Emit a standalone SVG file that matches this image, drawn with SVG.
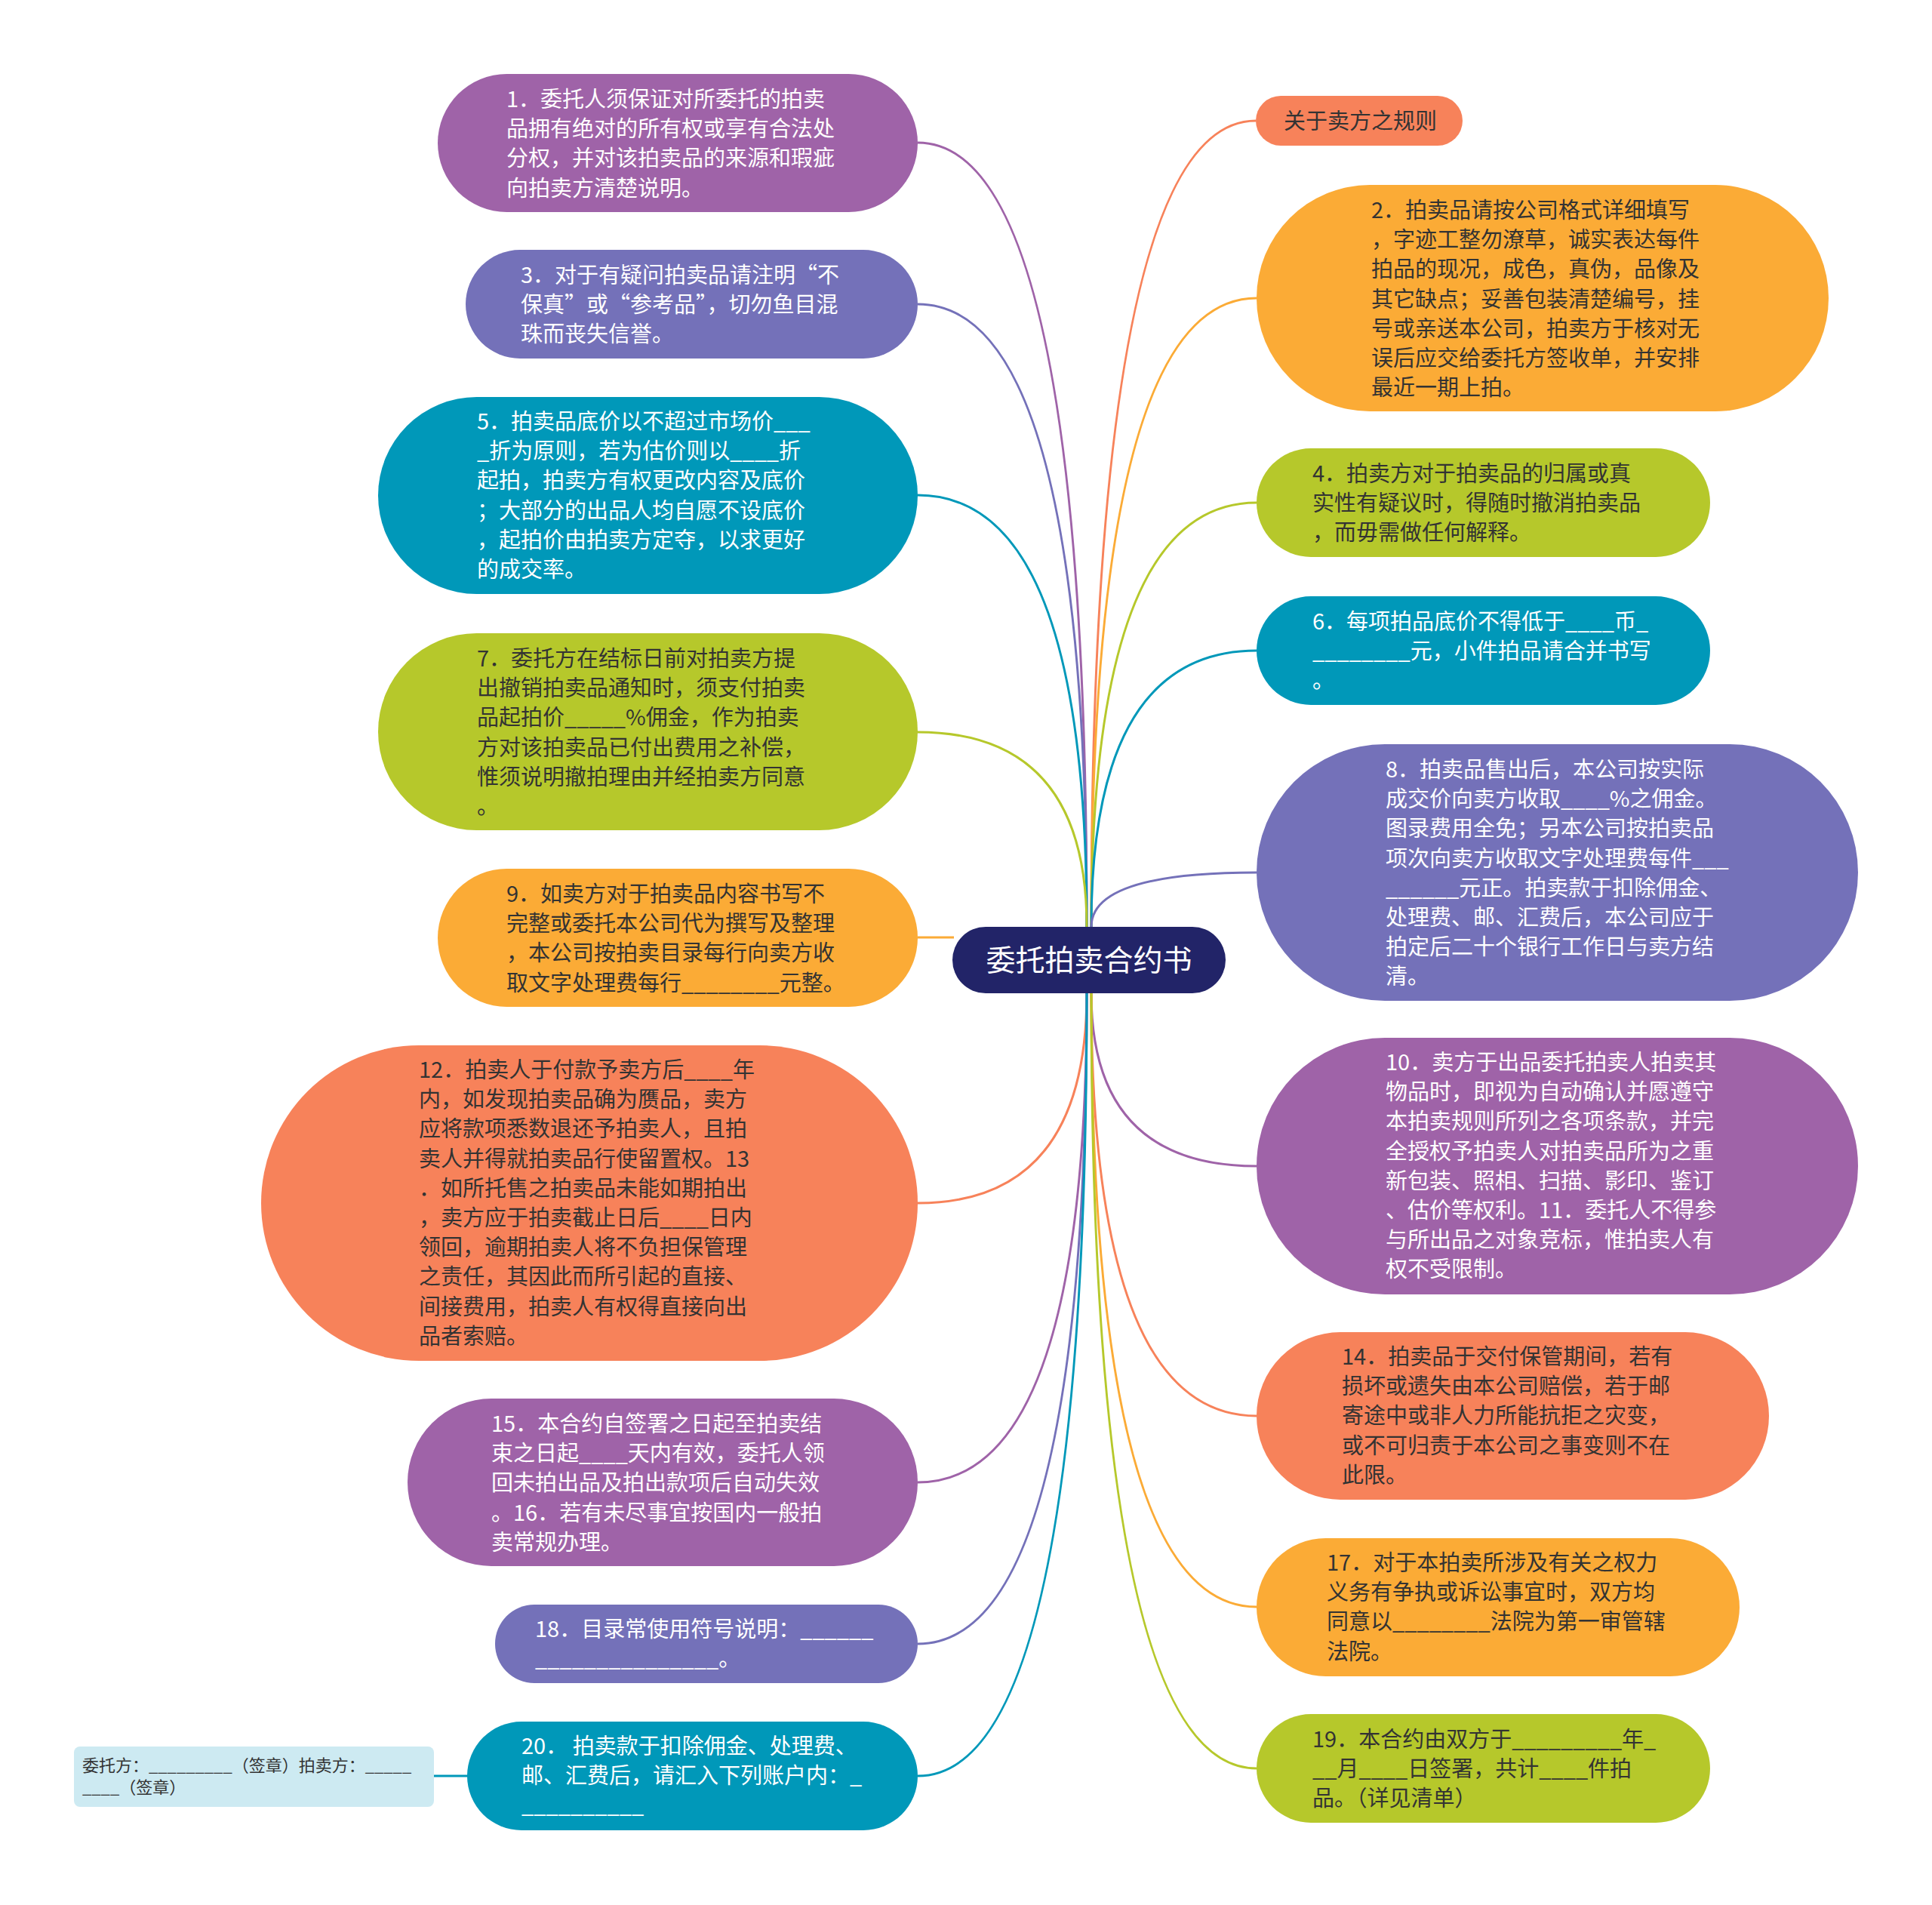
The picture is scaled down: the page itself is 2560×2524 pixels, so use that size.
<svg xmlns="http://www.w3.org/2000/svg" width="2560" height="2524" viewBox="0 0 2560 2524">
<style>
  .t { font-family: "Noto Sans CJK SC", "Noto Sans", sans-serif; font-size: 29px; }
  .w { fill: #ffffff; }
  .d { fill: #333333; }
  .c { fill: none; stroke-width: 3; }
  .purple { fill: #9f63a8; }
  .blue { fill: #7471b9; }
  .teal { fill: #0098b9; }
  .lime { fill: #b6c82b; }
  .orange { fill: #fbab36; }
  .coral { fill: #f7825a; }
</style>
<rect width="2560" height="2524" fill="#ffffff"/>
<g id="connectors">
  <path class="c" stroke="#9f63a8" d="M1440,1228 Q1440,189 1216,189"/>
  <path class="c" stroke="#7471b9" d="M1440,1228 Q1440,403 1216,403"/>
  <path class="c" stroke="#0098b9" d="M1440,1228 Q1440,656 1216,656"/>
  <path class="c" stroke="#b6c82b" d="M1440,1228 Q1440,970 1216,970"/>
  <path class="c" stroke="#fbab36" d="M1264,1242 L1216,1242"/>
  <path class="c" stroke="#f7825a" d="M1440,1316 Q1440,1594 1216,1594"/>
  <path class="c" stroke="#9f63a8" d="M1440,1316 Q1440,1964 1216,1964"/>
  <path class="c" stroke="#7471b9" d="M1440,1316 Q1440,2178 1216,2178"/>
  <path class="c" stroke="#0098b9" d="M1440,1316 Q1440,2353 1216,2353"/>
  <path class="c" stroke="#0098b9" d="M620,2353 L574,2353"/>
  <path class="c" stroke="#f7825a" d="M1446,1228 Q1446,160 1664,160"/>
  <path class="c" stroke="#fbab36" d="M1446,1228 Q1446,395 1665,395"/>
  <path class="c" stroke="#b6c82b" d="M1446,1228 Q1446,666 1665,666"/>
  <path class="c" stroke="#0098b9" d="M1446,1228 Q1446,862 1665,862"/>
  <path class="c" stroke="#7471b9" d="M1446,1228 Q1446,1156 1665,1156"/>
  <path class="c" stroke="#9f63a8" d="M1446,1316 Q1446,1545 1665,1545"/>
  <path class="c" stroke="#f7825a" d="M1446,1316 Q1446,1876 1665,1876"/>
  <path class="c" stroke="#fbab36" d="M1446,1316 Q1446,2129 1665,2129"/>
  <path class="c" stroke="#b6c82b" d="M1446,1316 Q1446,2343 1665,2343"/>
</g>
<g id="root">
  <rect x="1262" y="1228" width="362" height="88" rx="44" fill="#222468"/>
  <text x="1443" y="1286" text-anchor="middle" font-family="Noto Sans CJK SC, sans-serif" font-size="39" fill="#ffffff">委托拍卖合约书</text>
</g>
<g id="n1">
  <rect class="purple" x="580" y="98" width="636" height="183" rx="91.5"/>
  <text class="t w" y="142"><tspan x="671">1．委托人须保证对所委托的拍卖</tspan><tspan x="671" dy="39.2">品拥有绝对的所有权或享有合法处</tspan><tspan x="671" dy="39.2">分权，并对该拍卖品的来源和瑕疵</tspan><tspan x="671" dy="39.2">向拍卖方清楚说明。</tspan></text>
</g>
<g id="n3">
  <rect class="blue" x="617" y="331" width="599" height="144" rx="72"/>
  <text class="t w" y="375"><tspan x="690">3．对于有疑问拍卖品请注明“不</tspan><tspan x="690" dy="39.2">保真”或“参考品”，切勿鱼目混</tspan><tspan x="690" dy="39.2">珠而丧失信誉。</tspan></text>
</g>
<g id="n5">
  <rect class="teal" x="501" y="526" width="715" height="261" rx="130.5"/>
  <text class="t w" y="569"><tspan x="632">5．拍卖品底价以不超过市场价___</tspan><tspan x="632" dy="39.2">_折为原则，若为估价则以____折</tspan><tspan x="632" dy="39.2">起拍，拍卖方有权更改内容及底价</tspan><tspan x="632" dy="39.2">；大部分的出品人均自愿不设底价</tspan><tspan x="632" dy="39.2">，起拍价由拍卖方定夺，以求更好</tspan><tspan x="632" dy="39.2">的成交率。</tspan></text>
</g>
<g id="n7">
  <rect class="lime" x="501" y="839" width="715" height="261" rx="130.5"/>
  <text class="t d" y="883"><tspan x="632">7．委托方在结标日前对拍卖方提</tspan><tspan x="632" dy="39.2">出撤销拍卖品通知时，须支付拍卖</tspan><tspan x="632" dy="39.2">品起拍价_____%佣金，作为拍卖</tspan><tspan x="632" dy="39.2">方对该拍卖品已付出费用之补偿，</tspan><tspan x="632" dy="39.2">惟须说明撤拍理由并经拍卖方同意</tspan><tspan x="632" dy="39.2">。</tspan></text>
</g>
<g id="n9">
  <rect class="orange" x="580" y="1151" width="636" height="183" rx="91.5"/>
  <text class="t d" y="1195"><tspan x="671">9．如卖方对于拍卖品内容书写不</tspan><tspan x="671" dy="39.2">完整或委托本公司代为撰写及整理</tspan><tspan x="671" dy="39.2">，本公司按拍卖目录每行向卖方收</tspan><tspan x="671" dy="39.2">取文字处理费每行________元整。</tspan></text>
</g>
<g id="n12">
  <rect class="coral" x="346" y="1385" width="870" height="418" rx="209"/>
  <text class="t d" y="1428"><tspan x="555">12．拍卖人于付款予卖方后____年</tspan><tspan x="555" dy="39.2">内，如发现拍卖品确为赝品，卖方</tspan><tspan x="555" dy="39.2">应将款项悉数退还予拍卖人，且拍</tspan><tspan x="555" dy="39.2">卖人并得就拍卖品行使留置权。13</tspan><tspan x="555" dy="39.2">．如所托售之拍卖品未能如期拍出</tspan><tspan x="555" dy="39.2">，卖方应于拍卖截止日后____日内</tspan><tspan x="555" dy="39.2">领回，逾期拍卖人将不负担保管理</tspan><tspan x="555" dy="39.2">之责任，其因此而所引起的直接、</tspan><tspan x="555" dy="39.2">间接费用，拍卖人有权得直接向出</tspan><tspan x="555" dy="39.2">品者索赔。</tspan></text>
</g>
<g id="n15">
  <rect class="purple" x="540" y="1853" width="676" height="222" rx="111"/>
  <text class="t w" y="1897"><tspan x="651">15．本合约自签署之日起至拍卖结</tspan><tspan x="651" dy="39.2">束之日起____天内有效，委托人领</tspan><tspan x="651" dy="39.2">回未拍出品及拍出款项后自动失效</tspan><tspan x="651" dy="39.2">。16．若有未尽事宜按国内一般拍</tspan><tspan x="651" dy="39.2">卖常规办理。</tspan></text>
</g>
<g id="n18">
  <rect class="blue" x="656" y="2126" width="560" height="104" rx="52"/>
  <text class="t w" y="2169"><tspan x="709">18．目录常使用符号说明：______</tspan><tspan x="709" dy="39.2">_______________。</tspan></text>
</g>
<g id="n20">
  <rect class="teal" x="619" y="2281" width="597" height="144" rx="72"/>
  <text class="t w" y="2324"><tspan x="691">20． 拍卖款于扣除佣金、处理费、</tspan><tspan x="691" dy="39.2">邮、汇费后，请汇入下列账户内：_</tspan><tspan x="691" dy="39.2">__________</tspan></text>
</g>
<g id="leaf">
  <rect x="98" y="2314" width="477" height="80" rx="8" fill="#cdeaf2"/>
  <text font-family="Noto Sans CJK SC, sans-serif" font-size="22" fill="#333333" y="2347"><tspan x="109">委托方：_________（签章）拍卖方：_____</tspan><tspan x="109" dy="29">____（签章）</tspan></text>
</g>
<g id="title">
  <rect class="coral" x="1664" y="127" width="274" height="66" rx="33"/>
  <text class="t d" x="1701" y="171">关于卖方之规则</text>
</g>
<g id="n2">
  <rect class="orange" x="1665" y="245" width="758" height="300" rx="150"/>
  <text class="t d" y="289"><tspan x="1817">2．拍卖品请按公司格式详细填写</tspan><tspan x="1817" dy="39.2">，字迹工整勿潦草，诚实表达每件</tspan><tspan x="1817" dy="39.2">拍品的现况，成色，真伪，品像及</tspan><tspan x="1817" dy="39.2">其它缺点；妥善包装清楚编号，挂</tspan><tspan x="1817" dy="39.2">号或亲送本公司，拍卖方于核对无</tspan><tspan x="1817" dy="39.2">误后应交给委托方签收单，并安排</tspan><tspan x="1817" dy="39.2">最近一期上拍。</tspan></text>
</g>
<g id="n4">
  <rect class="lime" x="1665" y="594" width="601" height="144" rx="72"/>
  <text class="t d" y="638"><tspan x="1739">4．拍卖方对于拍卖品的归属或真</tspan><tspan x="1739" dy="39.2">实性有疑议时，得随时撤消拍卖品</tspan><tspan x="1739" dy="39.2">，而毋需做任何解释。</tspan></text>
</g>
<g id="n6">
  <rect class="teal" x="1665" y="790" width="601" height="144" rx="72"/>
  <text class="t w" y="834"><tspan x="1739">6．每项拍品底价不得低于____币_</tspan><tspan x="1739" dy="39.2">________元，小件拍品请合并书写</tspan><tspan x="1739" dy="39.2">。</tspan></text>
</g>
<g id="n8">
  <rect class="blue" x="1665" y="986" width="797" height="340" rx="170"/>
  <text class="t w" y="1030"><tspan x="1836">8．拍卖品售出后，本公司按实际</tspan><tspan x="1836" dy="39.2">成交价向卖方收取____%之佣金。</tspan><tspan x="1836" dy="39.2">图录费用全免；另本公司按拍卖品</tspan><tspan x="1836" dy="39.2">项次向卖方收取文字处理费每件___</tspan><tspan x="1836" dy="39.2">______元正。拍卖款于扣除佣金、</tspan><tspan x="1836" dy="39.2">处理费、邮、汇费后，本公司应于</tspan><tspan x="1836" dy="39.2">拍定后二十个银行工作日与卖方结</tspan><tspan x="1836" dy="39.2">清。</tspan></text>
</g>
<g id="n10">
  <rect class="purple" x="1665" y="1375" width="797" height="340" rx="170"/>
  <text class="t w" y="1418"><tspan x="1836">10．卖方于出品委托拍卖人拍卖其</tspan><tspan x="1836" dy="39.2">物品时，即视为自动确认并愿遵守</tspan><tspan x="1836" dy="39.2">本拍卖规则所列之各项条款，并完</tspan><tspan x="1836" dy="39.2">全授权予拍卖人对拍卖品所为之重</tspan><tspan x="1836" dy="39.2">新包装、照相、扫描、影印、鉴订</tspan><tspan x="1836" dy="39.2">、估价等权利。11．委托人不得参</tspan><tspan x="1836" dy="39.2">与所出品之对象竞标，惟拍卖人有</tspan><tspan x="1836" dy="39.2">权不受限制。</tspan></text>
</g>
<g id="n14">
  <rect class="coral" x="1665" y="1765" width="679" height="222" rx="111"/>
  <text class="t d" y="1808"><tspan x="1778">14．拍卖品于交付保管期间，若有</tspan><tspan x="1778" dy="39.2">损坏或遗失由本公司赔偿，若于邮</tspan><tspan x="1778" dy="39.2">寄途中或非人力所能抗拒之灾变，</tspan><tspan x="1778" dy="39.2">或不可归责于本公司之事变则不在</tspan><tspan x="1778" dy="39.2">此限。</tspan></text>
</g>
<g id="n17">
  <rect class="orange" x="1665" y="2038" width="640" height="183" rx="91.5"/>
  <text class="t d" y="2081"><tspan x="1758">17．对于本拍卖所涉及有关之权力</tspan><tspan x="1758" dy="39.2">义务有争执或诉讼事宜时，双方均</tspan><tspan x="1758" dy="39.2">同意以________法院为第一审管辖</tspan><tspan x="1758" dy="39.2">法院。</tspan></text>
</g>
<g id="n19">
  <rect class="lime" x="1665" y="2271" width="601" height="144" rx="72"/>
  <text class="t d" y="2315"><tspan x="1739">19．本合约由双方于_________年_</tspan><tspan x="1739" dy="39.2">__月____日签署，共计____件拍</tspan><tspan x="1739" dy="39.2">品。（详见清单）</tspan></text>
</g>
</svg>
